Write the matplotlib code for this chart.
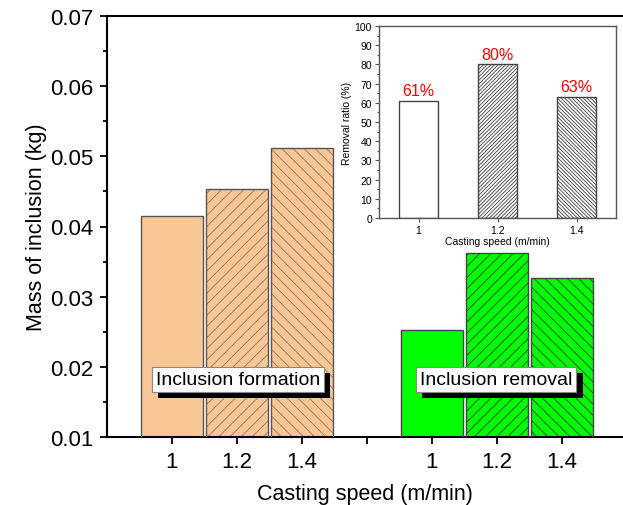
import numpy as np
import matplotlib.pyplot as plt
import matplotlib.patheffects as pe
from matplotlib.ticker import MultipleLocator

plt.rcParams['font.family'] = ['Liberation Sans', 'DejaVu Sans']
plt.rcParams['hatch.linewidth'] = 0.7

# data
speed_labels = ['1', '1.2', '1.4']
formation = [0.0415, 0.0453, 0.0512]
removal = [0.0253, 0.0362, 0.0326]
removal_ratio = [61, 80, 63]

x_form = np.arange(3)
x_rem = np.arange(3) + 4
hatches = ['', '///', '\\\\\\']

fig = plt.figure(figsize=(6.23, 5.06), dpi=100)
ax = fig.add_axes([107/623, 68/506, 516/623, 421/506])

def hatched_bars(a, x, h, fc, hc, ec, w, pats):
    # hatch layer first, then a plain outline on top
    for xi, hi, p in zip(x, h, pats):
        a.bar(xi, hi, width=w, color=fc, edgecolor=hc, linewidth=0, hatch=p, zorder=2)
        a.bar(xi, hi, width=w, fill=False, edgecolor=ec, linewidth=1.0, zorder=3)

hatched_bars(ax, x_form, formation, '#f9c795', '#9c8068', '#555555', 0.95, hatches)
hatched_bars(ax, x_rem, removal, '#00ff00', '#2a552a', '#444444', 0.95, hatches)

ax.set_ylim(0.01, 0.07)
ax.set_xlim(-1, 6.94)
ax.yaxis.set_major_locator(MultipleLocator(0.01))
ax.yaxis.set_minor_locator(MultipleLocator(0.005))
ax.set_xticks(list(x_form) + [3] + list(x_rem))
ax.set_xticklabels(speed_labels + [''] + speed_labels)
ax.spines['right'].set_visible(False)
for s in ['left', 'bottom', 'top']:
    ax.spines[s].set_linewidth(1.5)
ax.tick_params(axis='both', which='major', direction='out', length=5, width=1.3,
               labelsize=16, pad=5)
ax.tick_params(axis='y', which='minor', direction='out', length=3, width=1.3)
ax.set_xlabel('Casting speed (m/min)', fontsize=15.5, labelpad=8)
ax.set_ylabel('Mass of inclusion (kg)', fontsize=15.5, labelpad=2)

# labels with drop shadow
for xt, txt in [(1.015, 'Inclusion formation'), (4.99, 'Inclusion removal')]:
    t = ax.text(xt, 0.0182, txt, fontsize=14, ha='center', va='center', zorder=5,
                bbox=dict(boxstyle='square,pad=0.2', fc='white', ec='#888888', lw=0.8))
    t.get_bbox_patch().set_path_effects([
        pe.SimplePatchShadow(offset=(4.5, -4.5), shadow_rgbFace='black', alpha=1),
        pe.Normal()])

# inset
ins = fig.add_axes([379/623, 287/506, 237/623, 192/506])
ins_hatches = ['', '/' * 9, '\\' * 9]
hatched_bars(ins, np.arange(3), removal_ratio, 'white', '#555555', '#444444', 0.5, ins_hatches)
for xi, v in zip(np.arange(3), removal_ratio):
    ins.text(xi, v + 1.5, f'{v}%', color='red', fontsize=11.5, ha='center', va='bottom')
ins.set_xlim(-0.5, 2.5)
ins.set_ylim(0, 100)
ins.yaxis.set_major_locator(MultipleLocator(10))
ins.yaxis.set_minor_locator(MultipleLocator(5))
ins.set_xticks(np.arange(3))
ins.set_xticklabels(speed_labels)
for s in ins.spines.values():
    s.set_color('#555555')
    s.set_linewidth(1.0)
ins.tick_params(axis='both', which='major', direction='out', length=3, width=0.8,
                labelsize=7.5, pad=2, color='#555555')
ins.tick_params(axis='y', which='minor', direction='out', length=1.8, width=0.8, color='#555555')
ins.set_xlabel('Casting speed (m/min)', fontsize=7.5, labelpad=1)
ins.set_ylabel('Removal ratio (%)', fontsize=7.5, labelpad=2)

fig.savefig('out.png', dpi=100)
